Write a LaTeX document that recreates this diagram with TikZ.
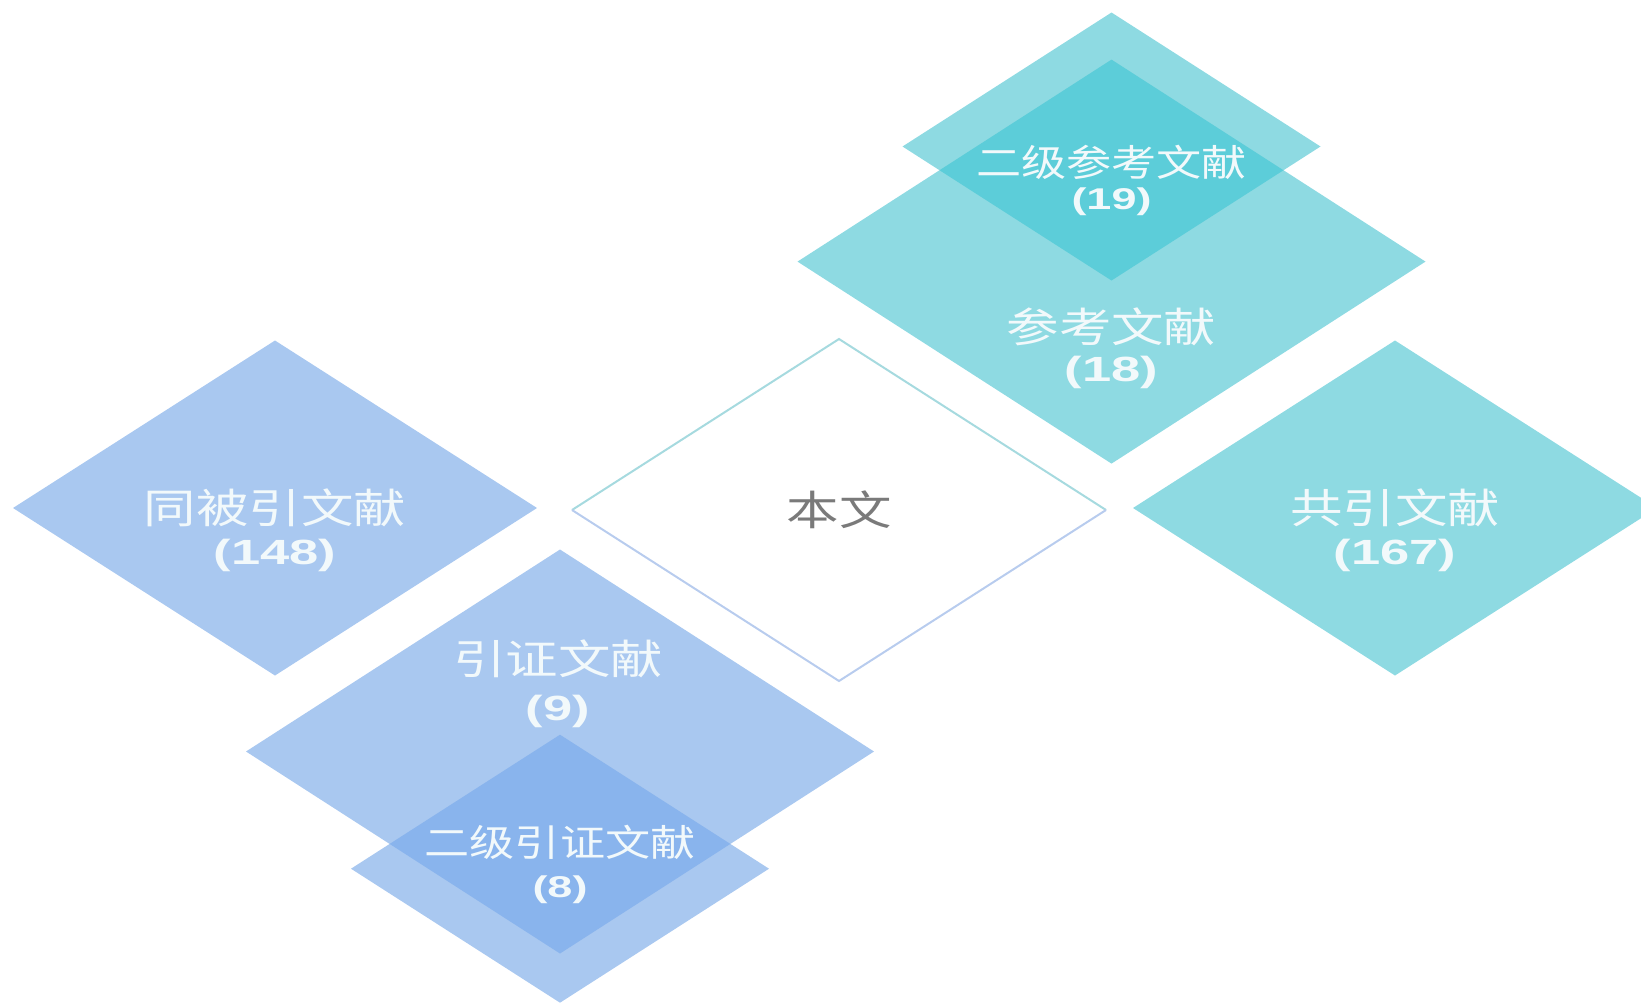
\documentclass[tikz,border=0pt]{standalone}
\usepackage{graphicx}
\usepackage{fontspec}
\newfontfamily\cjk{Noto Sans CJK SC}
\newfontfamily\numf{Liberation Sans}
\usetikzlibrary{shapes.geometric}
\definecolor{cteal}{HTML}{8EDAE2}
\definecolor{ctealdark}{HTML}{5CCDD9}
\definecolor{cblue}{HTML}{A9C8F0}
\definecolor{cbluedark}{HTML}{89B4ED}
\definecolor{ctext}{HTML}{F2F9FB}
\definecolor{cgraytext}{HTML}{7A7A7A}
\definecolor{cedgeup}{HTML}{A6DADF}
\definecolor{cedgelow}{HTML}{B8CCEE}
\tikzset{
  dia/.style={shape=diamond, inner sep=0pt, outer sep=0pt, draw=none},
  mid/.style={dia, minimum width=524pt, minimum height=335pt},
  big/.style={dia, minimum width=628pt, minimum height=404pt},
  small/.style={dia, minimum width=418pt, minimum height=268pt},
  lab/.style={inner sep=0pt, text=ctext, font=\cjk\fontsize{41}{41}\selectfont},
  lab2/.style={inner sep=0pt, text=ctext, font=\cjk\fontsize{37}{37}\selectfont},
  num/.style={inner sep=0pt, text=ctext, font=\numf\bfseries\fontsize{35}{35}\selectfont},
  num2/.style={inner sep=0pt, text=ctext, font=\numf\bfseries\fontsize{30}{30}\selectfont},
}
\newcommand\wide[1]{\scalebox{1.28}[1]{#1}}
\newcommand\widetwo[1]{\scalebox{1.22}[1]{#1}}
\newcommand\widen[1]{\scalebox{1.5}[1]{#1}}
\begin{document}
\begin{tikzpicture}[x=1pt,y=-1pt]
\useasboundingbox (0,0) rectangle (1641,1002);
\clip (0,0) rectangle (1641,1002);
% diamonds
\node[mid, fill=cblue] (tb) at (275,508) {};
\node[mid, fill=cteal] (gy) at (1395,508) {};
\node[dia, minimum width=534pt, minimum height=342pt] (bw) at (839,510) {};
\node[big, fill=cteal] (ck) at (1111.5,261.6) {};
\node[small, fill=cteal] (ek) at (1111.5,146.5) {};
\node[big, fill=cblue] (yz) at (560,751.5) {};
\node[small, fill=cblue] (ey) at (560,868.7) {};
% overlaps
\begin{scope}
  \clip (ck.north) -- (ck.east) -- (ck.south) -- (ck.west) -- cycle;
  \fill[ctealdark] (ek.north) -- (ek.east) -- (ek.south) -- (ek.west) -- cycle;
\end{scope}
\begin{scope}
  \clip (yz.north) -- (yz.east) -- (yz.south) -- (yz.west) -- cycle;
  \fill[cbluedark] (ey.north) -- (ey.east) -- (ey.south) -- (ey.west) -- cycle;
\end{scope}
% outline of centre
\draw[cedgeup, line width=2pt, line join=miter] (bw.west) -- (bw.north) -- (bw.east);
\draw[cedgelow, line width=2pt, line join=miter] (bw.west) -- (bw.south) -- (bw.east);
% labels
\node[lab2] (t-ek) at (1111.5,162) {\widetwo{二级参考文献}};
\node[num2] (n-ek) at (1111.5,202) {\widen{(19)}};
\node[lab] (t-ck) at (1111.5,327) {\wide{参考文献}};
\node[num] (n-ck) at (1111.5,372) {\widen{(18)}};
\node[lab] (t-tb) at (275,508) {\wide{同被引文献}};
\node[num] (n-tb) at (275,555) {\widen{(148)}};
\node[inner sep=0pt, text=cgraytext, font=\cjk\fontsize{41}{41}\selectfont] (t-bw) at (839,510) {\wide{本文}};
\node[lab] (t-gy) at (1395,508) {\wide{共引文献}};
\node[num] (n-gy) at (1395,555) {\widen{(167)}};
\node[lab] (t-yz) at (558,659) {\wide{引证文献}};
\node[num] (n-yz) at (558,711) {\widen{(9)}};
\node[lab2] (t-ey) at (560,842) {\widetwo{二级引证文献}};
\node[num2] (n-ey) at (560,890) {\widen{(8)}};
\end{tikzpicture}
\end{document}
